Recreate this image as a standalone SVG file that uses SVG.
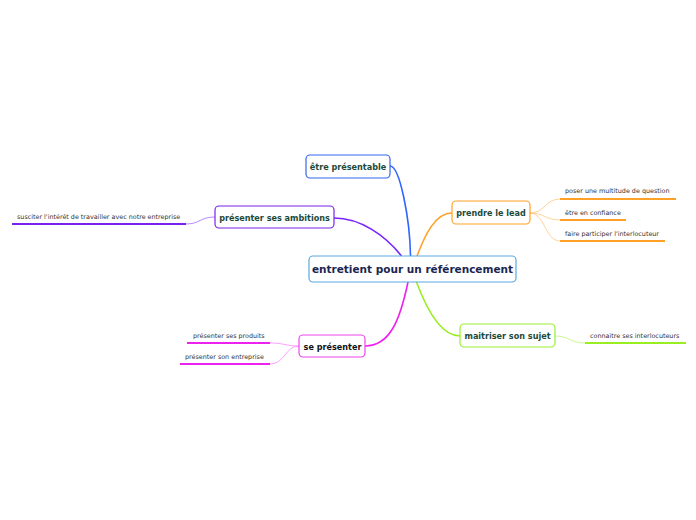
<svg xmlns="http://www.w3.org/2000/svg" width="696" height="520" viewBox="0 0 696 520">
<style>
.node rect{fill:#fff;stroke-width:1.2}
.nt{font-family:"DejaVu Sans",Verdana,sans-serif;font-weight:bold;font-size:8.1px;fill:#1c4a3a;text-anchor:middle}
.ct{font-family:"DejaVu Sans",Verdana,sans-serif;font-weight:bold;font-size:10.5px;fill:#1a2650;text-anchor:middle}
.lt{font-family:"DejaVu Sans",Verdana,sans-serif;font-size:6.4px;fill:#333}
.c{fill:none;stroke-width:1.6}
.s{fill:none;stroke-width:0.7}
.u{stroke-width:1.8}
</style>
<rect width="696" height="520" fill="#fff"/>
<g id="connectors">
<path class="c" stroke="#2f66ff" d="M410.5,256 C410,220 400,166 390,166"/>
<path class="c" stroke="#7722ff" d="M401.5,256 C385,235 360,218 334,218"/>
<path class="c" stroke="#ffa126" d="M417,256 C425,235 435,213 452,213"/>
<path class="c" stroke="#ee22ee" d="M408,282 C400,320 390,346 365,346"/>
<path class="c" stroke="#99ee22" d="M416.5,282 C425,305 440,336 460,336"/>
<path class="s" stroke="#ffc070" d="M530,213 C545,213 545,199 560,199"/>
<path class="s" stroke="#ffc070" d="M530,213 C545,213 545,220 560,220"/>
<path class="s" stroke="#ffc070" d="M530,213 C545,213 545,241 560,241"/>
<path class="s" stroke="#9955ff" d="M215,217 C200,217 200,224 186,224"/>
<path class="s" stroke="#ff77ff" d="M299,346 C285,346 285,343 270,343"/>
<path class="s" stroke="#ff77ff" d="M299,346 C285,346 285,364 270,364"/>
<path class="s" stroke="#bbf066" d="M555,336 C570,336 570,343 585,343"/>
</g>
<g id="center" class="node">
<rect x="309" y="256" width="207" height="26" rx="4" stroke="#5aa8e0"/>
<text class="ct" x="412.5" y="273">entretient pour un référencement</text>
</g>
<g id="n-presentable" class="node">
<rect x="306" y="155" width="84" height="23" rx="4" stroke="#3366ee"/>
<text class="nt" x="348" y="169.5">être présentable</text>
</g>
<g id="n-ambitions" class="node">
<rect x="215" y="206" width="119" height="22" rx="4" stroke="#7722ee"/>
<text class="nt" x="274.5" y="220.5">présenter ses ambitions</text>
</g>
<g id="n-lead" class="node">
<rect x="452" y="201" width="78" height="23" rx="4" stroke="#ffa126"/>
<text class="nt" x="491" y="215.5">prendre le lead</text>
</g>
<g id="n-sepresenter" class="node">
<rect x="299" y="335" width="66" height="22" rx="4" stroke="#ee44ee"/>
<text class="nt" x="332.5" y="349.5" style="fill:#111">se présenter</text>
</g>
<g id="n-maitriser" class="node">
<rect x="460" y="324" width="95" height="23" rx="4" stroke="#99ee33"/>
<text class="nt" x="507.5" y="338.5">maitriser son sujet</text>
</g>
<g id="l-question">
<text class="lt" x="565" y="193">poser une multitude de question</text>
<line class="u" x1="560" y1="199" x2="676" y2="199" stroke="#ffa126"/>
</g>
<g id="l-confiance">
<text class="lt" x="565" y="214.5">être en confiance</text>
<line class="u" x1="560" y1="220" x2="626" y2="220" stroke="#ffa126"/>
</g>
<g id="l-participer">
<text class="lt" x="565" y="235.5">faire participer l'interlocuteur</text>
<line class="u" x1="560" y1="241" x2="665" y2="241" stroke="#ffa126"/>
</g>
<g id="l-susciter">
<text class="lt" x="17" y="218.5">susciter l'intérêt de travailler avec notre entreprise</text>
<line class="u" x1="12" y1="224" x2="186" y2="224" stroke="#7722ee"/>
</g>
<g id="l-produits">
<text class="lt" x="193" y="337.5">présenter ses produits</text>
<line class="u" x1="187" y1="343" x2="270" y2="343" stroke="#ee22ee"/>
</g>
<g id="l-entreprise">
<text class="lt" x="185" y="358.5">présenter son entreprise</text>
<line class="u" x1="180" y1="364" x2="270" y2="364" stroke="#ee22ee"/>
</g>
<g id="l-interlocuteurs">
<text class="lt" x="590" y="337.5">connaitre ses interlocuteurs</text>
<line class="u" x1="585" y1="343" x2="686" y2="343" stroke="#99ee22"/>
</g>
</svg>
